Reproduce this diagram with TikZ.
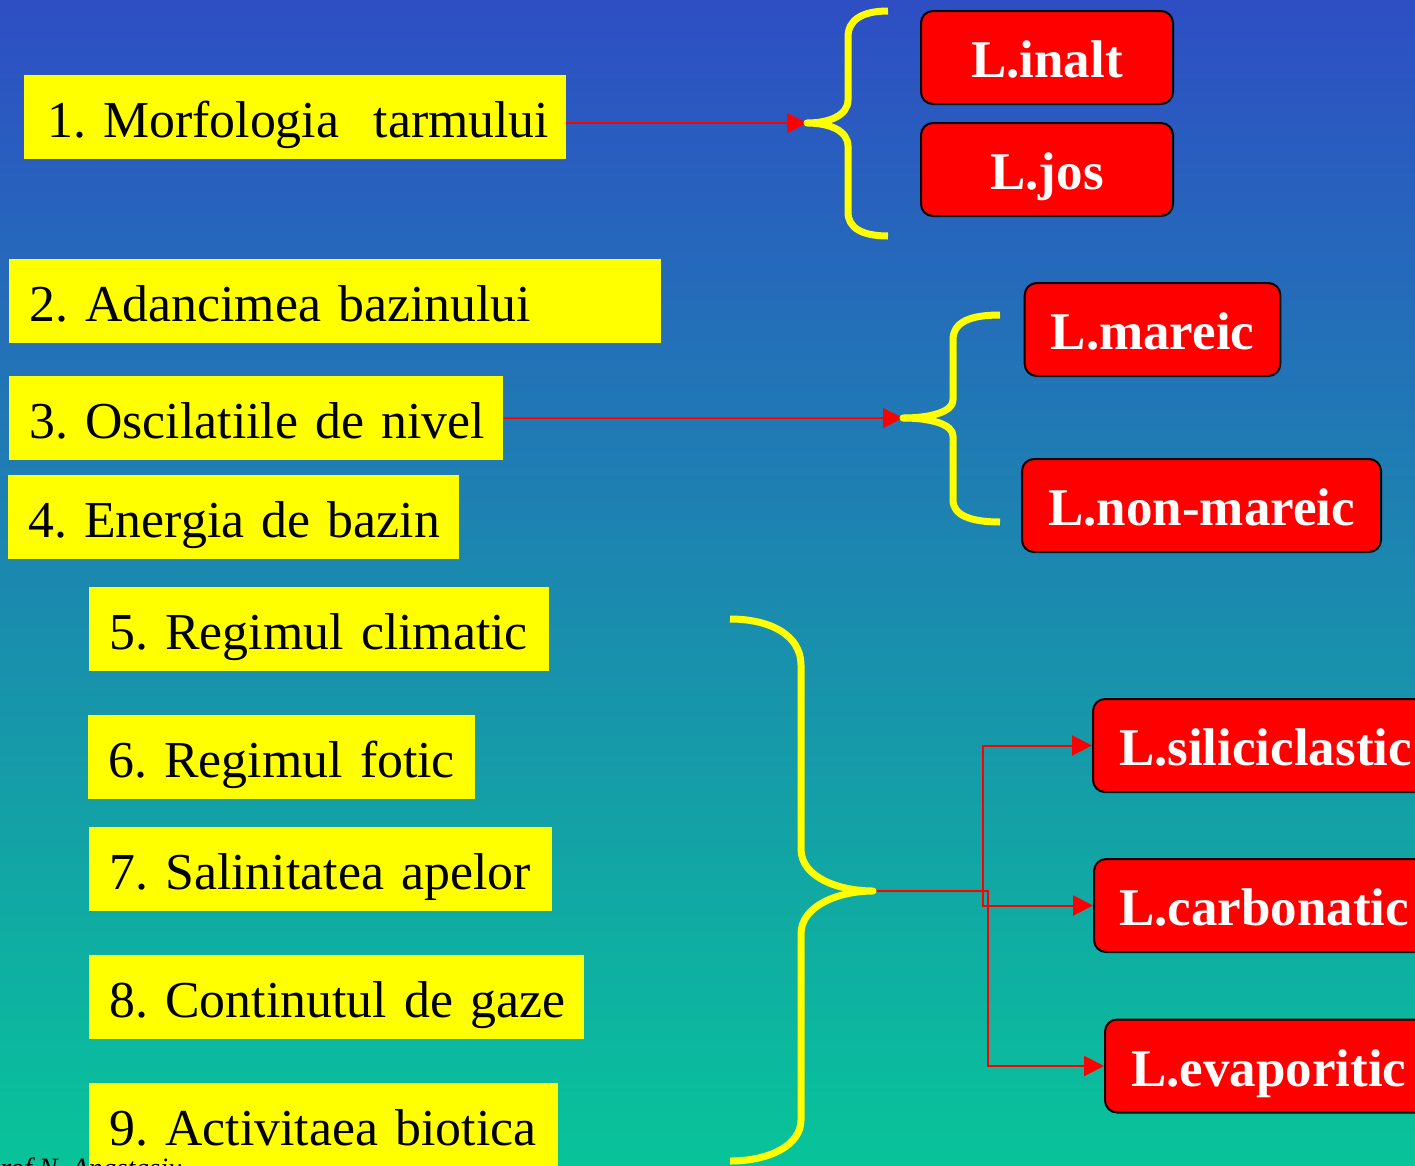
\documentclass[tikz,border=0pt]{standalone}
\usepackage{fontspec}
\setmainfont{Liberation Serif}
\usetikzlibrary{arrows.meta}
\definecolor{bgtop}{RGB}{46,78,196}
\definecolor{bgbot}{RGB}{8,196,154}
\definecolor{ylw}{RGB}{255,255,0}
\definecolor{rd}{RGB}{255,0,0}
\newcommand{\yfont}{\fontsize{51.8pt}{60pt}\selectfont}
\newcommand{\rfont}{\fontsize{53pt}{60pt}\selectfont\bfseries}
\frenchspacing
\tikzset{
  ybox/.style={fill=ylw, anchor=north west, inner xsep=20pt, inner ysep=0pt,
    minimum height=84pt, text height=40pt, text depth=0pt, align=left,
    font=\yfont, text=black},
  rbox/.style={fill=rd, draw=black, line width=2pt, rounded corners=12pt,
    inner xsep=26pt, inner ysep=0pt, minimum height=93pt,
    text height=40pt, text depth=0pt, text=white, font=\rfont},
  brace/.style={draw=ylw, line width=7pt, line join=round},
  conn/.style={draw=rd, line width=2pt, -{Triangle[length=20pt,width=20pt]}}
}
\begin{document}
\begin{tikzpicture}[x=1pt,y=-1pt]
\clip (0,0) rectangle (1415,1165);
\shade[top color=bgtop, bottom color=bgbot] (0,0) rectangle (1415,1165);

% yellow factor boxes
\node[ybox, inner xsep=23pt, text width=496pt] (b1) at (24,75) {\mbox{1. Morfologia\ \ tarmului}};
\node[ybox, text width=612pt] (b2) at (9,259) {\mbox{2. Adancimea bazinului}};
\node[ybox, text width=454pt] (b3) at (9,376) {\mbox{3. Oscilatiile de nivel}};
\node[ybox, text width=411pt] (b4) at (8,475) {\mbox{4. Energia de bazin}};
\node[ybox, text width=420pt] (b5) at (89,587) {\mbox{5. Regimul climatic}};
\node[ybox, text width=347pt] (b6) at (88,715) {\mbox{6. Regimul fotic}};
\node[ybox, text width=423pt] (b7) at (89,827) {\mbox{7. Salinitatea apelor}};
\node[ybox, text width=455pt] (b8) at (89,955) {\mbox{8. Continutul de gaze}};
\node[ybox, text width=429pt] (b9) at (89,1083) {\mbox{9. Activitaea biotica}};

% red result boxes
\node[rbox, minimum width=252pt] (inalt) at (1047,57.5) {L.inalt};
\node[rbox, minimum width=252pt] (jos) at (1047,169.5) {L.jos};
\node[rbox, minimum width=255pt] (mareic) at (1152.5,329.5) {L.mareic};
\node[rbox, minimum width=359pt] (nonmareic) at (1201.5,505.5) {L.non-mareic};
\node[rbox, anchor=west] (sili) at (1092,745.5) {L.siliciclastic};
\node[rbox, anchor=west, inner xsep=25pt] (carb) at (1093,905.5) {L.carbonatic};
\node[rbox, anchor=west] (evap) at (1104,1066) {L.evaporitic};

% brace tips and junctions
\coordinate (t1) at (807,123);
\coordinate (t2) at (903,418);
\coordinate (t3) at (873,891);
\coordinate (j1) at (983,891);
\coordinate (j2) at (988,891);

% connectors
\draw[conn, line width=1.5pt] (b1.east |- t1) -- (t1);
\draw[conn, line width=1.5pt] (b3.east) -- (t2);
\draw[conn] (t3) -- (j1) |- (sili.west);
\draw[conn] (t3) -- (j1) |- (carb.west);
\draw[conn] (t3) -- (j2) |- (evap.west);

% braces
\draw[brace] (888,11) .. controls (862,11) and (848,20) .. (848,37) -- (848,100)
  .. controls (848,115) and (830,123) .. (t1)
  .. controls (830,123) and (848,131) .. (848,146) -- (848,212)
  .. controls (848,228) and (862,236) .. (888,236);
\draw[brace] (1000,315) .. controls (970,315) and (953,322) .. (953,340) -- (953,400)
  .. controls (953,412) and (930,418) .. (t2)
  .. controls (930,418) and (953,424) .. (953,436) -- (953,500)
  .. controls (953,515) and (970,522) .. (1000,522);
\draw[brace] (730,619) .. controls (770,619) and (801,635) .. (801,665) -- (801,849)
  .. controls (801,878) and (840,891) .. (t3)
  .. controls (840,891) and (801,905) .. (801,934) -- (801,1120)
  .. controls (801,1145) and (770,1161) .. (730,1161);

% clipped footer (cut by the lower edge, as in the reference)
\node[anchor=base west, inner sep=0pt, font=\itshape\fontsize{28pt}{30pt}\selectfont, text=black] (footer) at (-17,1177) {Prof N. Anastasiu};
\end{tikzpicture}
\end{document}
